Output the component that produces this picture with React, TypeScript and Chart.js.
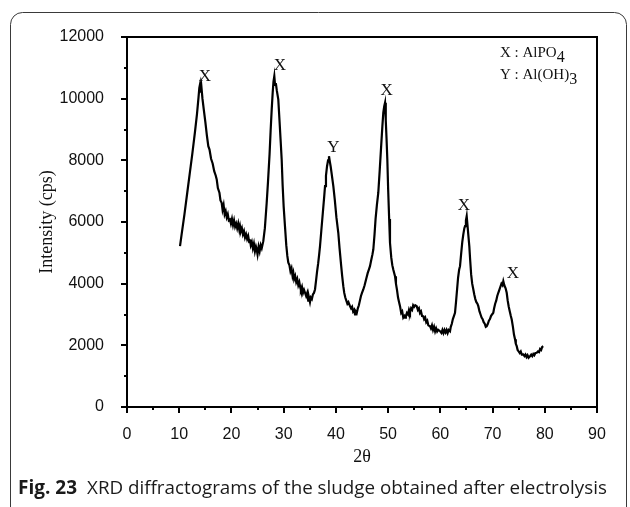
import React, { useEffect, useRef } from 'react';
import { Chart, registerables } from 'chart.js';

Chart.register(...registerables);

// 2θ positions of the diffractogram (degrees)
const twoTheta = [
  10.15, 10.5, 11.0, 11.5, 12.0, 12.5, 13.0, 13.4, 13.7, 13.85,
  13.98, 14.1, 14.25, 14.45, 14.7, 15.0, 15.3, 15.57, 15.8, 16.1,
  16.4, 16.7, 17.0, 17.18, 17.4, 17.7, 17.9, 18.13, 18.3, 18.5,
  18.7, 18.9, 19.1, 19.3, 19.5, 19.72, 19.9, 20.1, 20.3, 20.5,
  20.7, 20.9, 21.1, 21.3, 21.5, 21.64, 21.8, 22.0, 22.2, 22.4,
  22.6, 22.8, 23.0, 23.2, 23.4, 23.55, 23.7, 23.9, 24.1, 24.3,
  24.5, 24.7, 24.84, 25.0, 25.2, 25.4, 25.6, 25.8, 26.1, 26.4,
  26.75, 27.0, 27.3, 27.5, 27.71, 27.9, 28.05, 28.21, 28.35, 28.5,
  28.7, 28.97, 29.2, 29.4, 29.62, 29.8, 30.0, 30.25, 30.5, 30.7,
  30.89, 31.1, 31.3, 31.5, 31.7, 31.85, 32.0, 32.2, 32.4, 32.6,
  32.8, 33.0, 33.13, 33.3, 33.5, 33.7, 33.9, 34.09, 34.3, 34.5,
  34.7, 34.85, 35.04, 35.2, 35.4, 35.6, 35.8, 36.0, 36.2, 36.4,
  36.6, 36.8, 36.96, 37.2, 37.5, 37.75, 37.92, 38.1, 38.3, 38.5,
  38.68, 38.85, 39.0, 39.2, 39.51, 39.8, 40.1, 40.46, 40.7, 41.0,
  41.2, 41.42, 41.6, 41.8, 42.0, 42.2, 42.4, 42.7, 42.9, 43.1,
  43.3, 43.5, 43.66, 43.8, 44.0, 44.2, 44.4, 44.6, 44.8, 45.0,
  45.25, 45.5, 45.8, 46.1, 46.3, 46.53, 46.75, 47.0, 47.17, 47.4,
  47.6, 47.85, 48.12, 48.4, 48.7, 48.9, 49.08, 49.25, 49.41, 49.55,
  49.7, 49.85, 50.0, 50.2, 50.36, 50.6, 50.8, 51.0, 51.32, 51.5,
  51.7, 51.9, 52.1, 52.28, 52.5, 52.7, 52.9, 53.1, 53.24, 53.4,
  53.6, 53.8, 54.0, 54.19, 54.4, 54.6, 54.8, 55.0, 55.2, 55.48,
  55.7, 55.9, 56.1, 56.3, 56.5, 56.74, 56.9, 57.1, 57.3, 57.5,
  57.7, 58.02, 58.2, 58.4, 58.6, 58.8, 59.0, 59.2, 59.4, 59.6,
  59.94, 60.2, 60.4, 60.6, 60.8, 61.0, 61.2, 61.4, 61.6, 61.85,
  62.0, 62.2, 62.4, 62.6, 62.81, 63.0, 63.2, 63.4, 63.6, 63.77,
  64.0, 64.2, 64.4, 64.6, 64.73, 64.9, 65.05, 65.2, 65.35, 65.55,
  65.7, 65.9, 66.1, 66.32, 66.5, 66.7, 66.9, 67.1, 67.27, 67.5,
  67.7, 67.9, 68.1, 68.3, 68.5, 68.7, 68.88, 69.1, 69.3, 69.5,
  69.7, 69.9, 70.14, 70.3, 70.5, 70.7, 70.9, 71.1, 71.3, 71.5,
  71.7, 71.9, 72.06, 72.25, 72.5, 72.71, 72.9, 73.1, 73.3, 73.5,
  73.67, 73.9, 74.1, 74.3, 74.45, 74.63, 74.8, 75.0, 75.2, 75.4,
  75.6, 75.89, 76.1, 76.3, 76.5, 76.7, 76.9, 77.17, 77.4, 77.6,
  77.8, 78.0, 78.2, 78.46, 78.7, 78.9, 79.1, 79.3, 79.5, 79.72,
];

// Intensity (cps)
const intensity = [
  5216, 5650, 6250, 6900, 7550, 8200, 8900, 9500, 10050, 10350,
  10462, 10200, 10380, 10000, 9650, 9250, 8800, 8460, 8350, 8050,
  7900, 7650, 7500, 7380, 7100, 6950, 6700, 6624, 6400, 6550,
  6250, 6350, 6150, 6250, 6050, 6083, 5950, 6100, 5900, 6050,
  5850, 5950, 5800, 5950, 5750, 5865, 5700, 5800, 5600, 5700,
  5500, 5600, 5450, 5550, 5350, 5434, 5250, 5350, 5150, 5300,
  5050, 5200, 5110, 4950, 5200, 5050, 5250, 5150, 5379, 5800,
  6624, 7300, 8200, 8950, 9651, 10200, 10550, 10731, 10450, 10500,
  10250, 9975, 9300, 8700, 8028, 7200, 6500, 5865, 5250, 4900,
  4678, 4600, 4400, 4500, 4250, 4353, 4150, 4250, 4050, 4150,
  3950, 4050, 3919, 3800, 3900, 3700, 3800, 3705, 3600, 3700,
  3450, 3550, 3400, 3550, 3500, 3650, 3700, 3812, 4100, 4400,
  4650, 4950, 5216, 5700, 6300, 6800, 7163, 7500, 7800, 8000,
  8136, 7950, 7800, 7550, 7163, 6700, 6150, 5651, 5150, 4600,
  4250, 3919, 3700, 3550, 3450, 3350, 3400, 3270, 3200, 3250,
  3100, 3150, 3000, 3100, 3050, 3200, 3300, 3450, 3600, 3700,
  3812, 3950, 4150, 4350, 4450, 4568, 4750, 4950, 5109, 5600,
  6100, 6550, 6949, 7700, 8550, 9100, 9544, 9750, 9868, 9300,
  8700, 8029, 7100, 6100, 5327, 4850, 4600, 4450, 4243, 4000,
  3800, 3550, 3400, 3270, 3050, 3100, 2900, 2950, 2894, 2950,
  3050, 3000, 3150, 3056, 3200, 3150, 3300, 3250, 3300, 3270,
  3150, 3200, 3050, 3100, 2950, 2946, 2850, 2900, 2750, 2800,
  2650, 2621, 2550, 2650, 2500, 2600, 2450, 2550, 2450, 2500,
  2459, 2400, 2500, 2400, 2500, 2420, 2500, 2400, 2500, 2459,
  2600, 2700, 2850, 2950, 3056, 3400, 3800, 4200, 4450, 4568,
  5000, 5350, 5600, 5800, 5865, 6050, 6190, 5900, 5600, 5216,
  4800, 4300, 4000, 3812, 3650, 3500, 3400, 3350, 3270, 3100,
  3000, 2900, 2850, 2750, 2700, 2600, 2621, 2700, 2800, 2850,
  2950, 3000, 3056, 3200, 3350, 3450, 3600, 3705, 3800, 3900,
  4000, 3950, 4081, 3950, 3850, 3705, 3450, 3250, 3100, 2950,
  2839, 2600, 2350, 2200, 2050, 1972, 1850, 1800, 1750, 1800,
  1700, 1703, 1650, 1700, 1620, 1680, 1600, 1648, 1700, 1650,
  1720, 1680, 1750, 1758, 1800, 1780, 1880, 1850, 1950, 1972,
];

// Axis ticks
const xMajorTicks = [0, 10, 20, 30, 40, 50, 60, 70, 80, 90];
const xMinorTicks = [5, 15, 25, 35, 45, 55, 65, 75, 85];
const yMajorTicks = [0, 2000, 4000, 6000, 8000, 10000, 12000];
const yMinorTicks = [1000, 3000, 5000, 7000, 9000, 11000];

// Peak annotations (phase letter, position in data units)
const peakLetters = ['X', 'X', 'Y', 'X', 'X', 'X'];
const peakLetterX = [14.9, 29.3, 39.5, 49.7, 64.5, 73.9];
const peakLetterY = [10730, 11060, 8420, 10280, 6520, 4330];

// Phase key
const keyMain = ['X : AlPO', 'Y : Al(OH)'];
const keySub = ['4', '3'];

const captionBold = 'Fig. 23';
const captionText = 'XRD diffractograms of the sludge obtained after electrolysis';

const SERIF = '"Liberation Serif", "Times New Roman", serif';
const SANS = '"Liberation Sans", Arial, sans-serif';
const CAPTION = '"Open Sans", "Noto Sans", sans-serif';

const overlayPlugin = {
  id: 'overlay',
  beforeDraw(chart: any) {
    const ctx = chart.ctx as CanvasRenderingContext2D;
    ctx.save();
    ctx.fillStyle = '#ffffff';
    ctx.fillRect(0, 0, chart.width, chart.height);
    // card border
    const x = 10.5, y = 12.5, w = 616, h = 530, r = 12;
    ctx.beginPath();
    ctx.moveTo(x + r, y);
    ctx.lineTo(x + w - r, y);
    ctx.arcTo(x + w, y, x + w, y + r, r);
    ctx.lineTo(x + w, y + h - r);
    ctx.arcTo(x + w, y + h, x + w - r, y + h, r);
    ctx.lineTo(x + r, y + h);
    ctx.arcTo(x, y + h, x, y + h - r, r);
    ctx.lineTo(x, y + r);
    ctx.arcTo(x, y, x + r, y, r);
    ctx.closePath();
    ctx.strokeStyle = '#3a3a3a';
    ctx.lineWidth = 1;
    ctx.stroke();
    ctx.restore();
  },
  afterDraw(chart: any) {
    const ctx = chart.ctx as CanvasRenderingContext2D;
    const { left, right, top, bottom } = chart.chartArea;
    const xs = chart.scales.x;
    const ys = chart.scales.y;
    ctx.save();
    // frame
    ctx.strokeStyle = '#000';
    ctx.lineWidth = 2;
    ctx.strokeRect(left, top, right - left, bottom - top);
    // ticks
    ctx.lineWidth = 2;
    ctx.beginPath();
    xMajorTicks.forEach((v) => {
      const px = Math.round(xs.getPixelForValue(v));
      ctx.moveTo(px, bottom);
      ctx.lineTo(px, bottom + 6);
    });
    xMinorTicks.forEach((v) => {
      const px = Math.round(xs.getPixelForValue(v));
      ctx.moveTo(px, bottom);
      ctx.lineTo(px, bottom + 3);
    });
    yMajorTicks.forEach((v) => {
      const py = Math.round(ys.getPixelForValue(v));
      ctx.moveTo(left, py);
      ctx.lineTo(left - 6, py);
    });
    yMinorTicks.forEach((v) => {
      const py = Math.round(ys.getPixelForValue(v));
      ctx.moveTo(left, py);
      ctx.lineTo(left - 3, py);
    });
    ctx.stroke();

    // peak letters
    ctx.fillStyle = '#111';
    ctx.font = `17px ${SERIF}`;
    ctx.textAlign = 'center';
    ctx.textBaseline = 'middle';
    peakLetters.forEach((t, i) => {
      ctx.fillText(t, xs.getPixelForValue(peakLetterX[i]), ys.getPixelForValue(peakLetterY[i]));
    });

    // phase key
    ctx.textAlign = 'left';
    ctx.textBaseline = 'alphabetic';
    const keyX = 500;
    const keyY = [57, 79];
    keyMain.forEach((t, i) => {
      ctx.font = `15px ${SERIF}`;
      ctx.fillText(t, keyX, keyY[i]);
      const w = ctx.measureText(t).width;
      ctx.font = `16px ${SERIF}`;
      ctx.fillText(keySub[i], keyX + w, keyY[i] + 5);
    });

    // caption
    ctx.fillStyle = '#1a1a1a';
    ctx.font = `bold 19px ${CAPTION}`;
    ctx.fillText(captionBold, 18, 494);
    const bw = ctx.measureText(captionBold).width;
    ctx.font = `18.8px ${CAPTION}`;
    ctx.fillText(captionText, 18 + bw + 10, 494);
    ctx.restore();
  },
};

export default function App() {
  const ref = useRef<HTMLCanvasElement | null>(null);

  useEffect(() => {
    document.body.style.margin = '0';
    const canvas = ref.current;
    if (!canvas) return;
    const points = twoTheta.map((x, i) => ({ x, y: intensity[i] }));
    const chart = new Chart(canvas, {
      type: 'line',
      data: {
        datasets: [
          {
            data: points,
            borderColor: '#000',
            borderWidth: 2.2,
            pointRadius: 0,
            tension: 0,
            fill: false,
          },
        ],
      },
      options: {
        animation: false,
        responsive: false,
        devicePixelRatio: 1,
        layout: { padding: { left: 0, right: 33, top: 37, bottom: 0 } },
        plugins: { legend: { display: false }, tooltip: { enabled: false } },
        scales: {
          x: {
            type: 'linear',
            min: 0,
            max: 90,
            afterBuildTicks: (s: any) => {
              s.ticks = xMajorTicks.map((v) => ({ value: v }));
            },
            afterFit: (s: any) => {
              s.height = 100;
            },
            grid: { display: false },
            border: { display: false },
            ticks: {
              font: { family: SANS, size: 16 },
              color: '#111',
              padding: 10,
              maxRotation: 0,
              callback: (v: any) => String(v),
            },
            title: {
              display: true,
              text: '2θ',
              font: { family: SERIF, size: 18 },
              color: '#111',
              padding: { top: 0, bottom: 39 },
            },
          },
          y: {
            type: 'linear',
            min: 0,
            max: 12000,
            afterBuildTicks: (s: any) => {
              s.ticks = yMajorTicks.map((v) => ({ value: v }));
            },
            afterFit: (s: any) => {
              s.width = 127;
            },
            grid: { display: false },
            border: { display: false },
            ticks: {
              font: { family: SANS, size: 16 },
              color: '#111',
              padding: 15,
              callback: (v: any) => String(v),
            },
            title: {
              display: true,
              text: 'Intensity (cps)',
              font: { family: SERIF, size: 18 },
              color: '#111',
              padding: { top: 36, bottom: 0 },
            },
          },
        },
      },
      plugins: [overlayPlugin],
    });
    return () => chart.destroy();
  }, []);

  return <canvas ref={ref} width={630} height={507} style={{ display: 'block', width: 630, height: 507 }} />;
}
